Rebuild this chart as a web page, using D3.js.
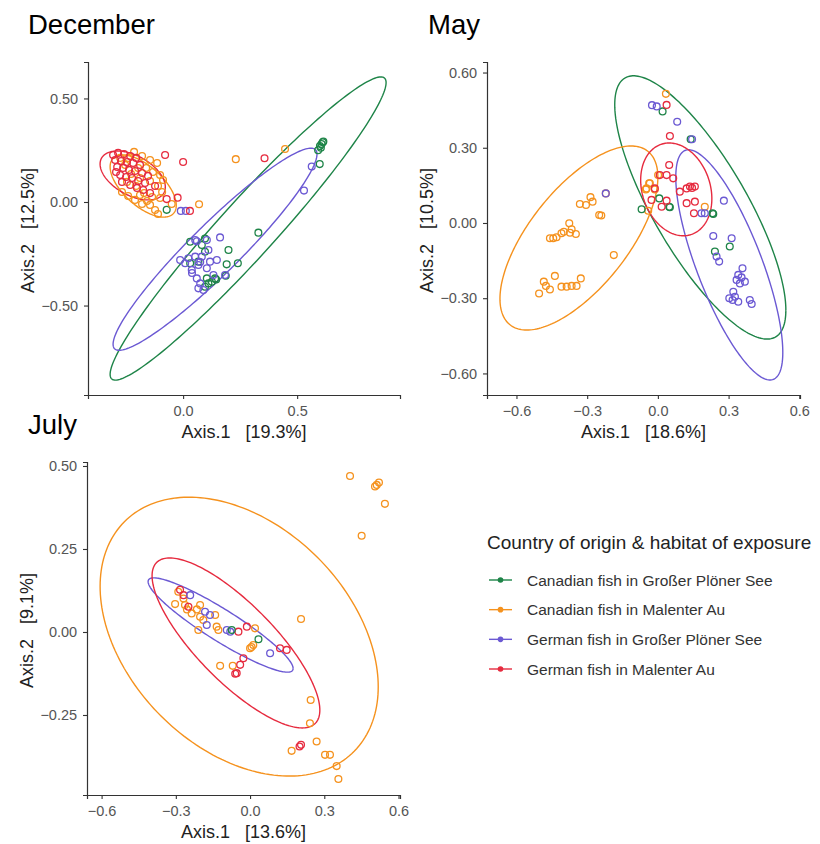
<!DOCTYPE html>
<html>
<head>
<meta charset="utf-8">
<script src="https://cdn.jsdelivr.net/npm/d3@7"></script>
<style>
  html, body { margin: 0; padding: 0; background: #ffffff; }
  svg { display: block; font-family: "Liberation Sans", Arial, sans-serif; }
</style>
</head>
<body>
<svg id="chart" width="820" height="844"></svg>
<script>
// ---- groups ----
const groups = [
  "Canadian fish in Großer Plöner See",
  "Canadian fish in Malenter Au",
  "German fish in Großer Plöner See",
  "German fish in Malenter Au"
];
const groupColors = ["#1e8448", "#f5921e", "#6b59d3", "#e62b3f"];

// ---- December ordination (Axis.1, Axis.2) ----
const decCanPlon = [
  [-0.072,-0.038],[0.599,0.183],[0.600,0.270],[0.607,0.280],[0.612,0.288],[0.604,0.262],
  [0.615,0.292],[0.592,0.250],[0.330,-0.148],[0.199,-0.232],[0.240,-0.296],[0.191,-0.301],
  [0.031,-0.192],[0.096,-0.240],[0.067,-0.288],[0.104,-0.369],[0.111,-0.393],[0.126,-0.385],
  [0.096,-0.409],[0.140,-0.369],[0.031,-0.296],[0.082,-0.208],[0.096,-0.176],[0.187,-0.356],
  [0.145,-0.374]
];
const decCanMal = [
  [-0.276,0.213],[-0.241,0.213],[-0.215,0.242],[-0.180,0.222],[-0.145,0.203],[-0.114,0.188],
  [-0.254,0.179],[-0.197,0.164],[-0.162,0.164],[-0.132,0.145],[-0.101,0.130],[-0.088,0.106],
  [-0.228,0.135],[-0.189,0.116],[-0.145,0.101],[-0.110,0.077],[-0.092,0.048],[-0.246,0.097],
  [-0.206,0.077],[-0.171,0.043],[-0.136,0.024],[-0.101,0.019],[-0.241,0.029],[-0.211,0.010],
  [-0.180,-0.010],[-0.145,-0.014],[-0.123,-0.039],[-0.110,-0.058],[-0.268,0.048],[-0.189,0.034],
  [-0.158,0.005],[0.231,0.207],[0.447,0.256],[0.070,-0.011],[-0.050,-0.010]
];
const decGerPlon = [
  [-0.010,-0.043],[0.012,-0.043],[0.162,-0.171],[0.530,0.055],[0.564,0.171],
  [0.104,-0.184],[0.060,-0.190],[0.023,-0.272],[-0.013,-0.280],[0.053,-0.264],[0.082,-0.264],
  [0.118,-0.288],[0.148,-0.280],[0.067,-0.304],[0.104,-0.320],[0.038,-0.328],[0.133,-0.353],
  [0.060,-0.369],[0.075,-0.393],[0.067,-0.417],[0.089,-0.425],[0.184,-0.353],[0.009,-0.296],
  [0.111,-0.232],[0.053,-0.184],[0.075,-0.290],[0.039,-0.343]
];
const decGerMal = [
  [-0.307,0.227],[-0.285,0.237],[-0.259,0.232],[-0.232,0.222],[-0.206,0.213],[-0.298,0.203],
  [-0.272,0.198],[-0.246,0.193],[-0.219,0.188],[-0.189,0.179],[-0.289,0.169],[-0.263,0.164],
  [-0.237,0.155],[-0.211,0.150],[-0.180,0.140],[-0.276,0.130],[-0.250,0.121],[-0.224,0.116],
  [-0.197,0.101],[-0.167,0.092],[-0.232,0.082],[-0.202,0.068],[-0.175,0.058],[-0.145,0.043],
  [-0.268,0.097],[-0.294,0.145],[-0.154,0.126],[-0.123,0.077],
  [-0.079,0.227],[0.000,0.193],[0.357,0.211],[-0.072,0.014],[-0.024,0.021],[0.030,-0.043]
];

// ---- May ordination ----
const mayCanPlon = [
  [0.020,0.445],[0.139,0.334],[0.006,0.098],[0.048,0.065],[-0.069,0.055],[0.051,0.063],
  [0.232,0.039],[0.242,-0.114],[0.305,-0.094],[0.235,0.036]
];
const mayCanMal = [
  [0.034,0.515],[-0.034,0.158],[-0.048,0.138],[-0.037,0.158],[-0.051,0.134],[-0.041,0.049],
  [0.001,0.191],[0.199,0.065],[-0.013,0.134],
  [-0.286,0.103],[-0.277,0.085],[-0.305,0.072],[-0.331,0.076],[-0.249,0.032],[-0.240,0.030],
  [-0.376,-0.001],[-0.366,-0.025],[-0.399,-0.035],[-0.348,-0.044],[-0.373,-0.039],[-0.430,-0.057],
  [-0.458,-0.061],[-0.444,-0.061],[-0.409,-0.041],[-0.221,0.118],[-0.187,-0.128],
  [-0.437,-0.211],[-0.484,-0.234],[-0.475,-0.251],[-0.504,-0.281],[-0.458,-0.265],[-0.409,-0.254],
  [-0.387,-0.254],[-0.366,-0.251],[-0.345,-0.251],[-0.327,-0.221]
];
const mayGerPlon = [
  [-0.025,0.470],[-0.005,0.465],[0.082,0.404],[0.145,0.334],[0.185,0.039],[0.199,0.039],
  [0.280,0.089],[-0.221,0.118],[0.235,-0.052],[0.313,-0.061],[0.249,-0.134],[0.260,-0.154],
  [0.359,-0.181],[0.341,-0.207],[0.355,-0.217],[0.369,-0.234],[0.334,-0.227],[0.348,-0.241],
  [0.320,-0.274],[0.303,-0.300],[0.327,-0.294],[0.317,-0.307],[0.341,-0.314],[0.390,-0.307],
  [0.398,-0.323]
];
const mayGerMal = [
  [0.037,0.471],[0.051,0.347],[0.048,0.231],[0.008,0.191],[0.037,0.191],[0.065,0.178],
  [-0.013,0.138],[-0.027,0.092],[0.037,0.089],[0.016,0.065],[0.093,0.125],[0.122,0.138],
  [0.136,0.145],[0.157,0.145],[0.122,0.079],[0.157,0.085],[0.153,0.039],[0.145,0.140]
];

// ---- July ordination ----
const julCanPlon = [
  [-0.074,0.006],[0.034,-0.022]
];
const julCanMal = [
  [0.404,0.470],[0.512,0.443],[0.521,0.450],[0.505,0.438],[0.545,0.386],[0.451,0.290],
  [0.206,0.039],[0.245,-0.205],[0.242,-0.275],[0.269,-0.330],[0.168,-0.358],[0.303,-0.370],
  [0.323,-0.370],[0.350,-0.404],[0.357,-0.443],[-0.121,-0.102],[-0.070,-0.102],
  [-0.290,0.121],[-0.303,0.084],[-0.269,0.101],[-0.263,0.081],[-0.236,0.056],[-0.202,0.081],
  [-0.202,0.046],[-0.209,0.006],[-0.189,0.036],[-0.141,0.051],[-0.135,0.016],[-0.128,0.006],
  [0.020,0.011],[0.000,-0.049],[0.013,-0.039],[-0.215,0.068],[0.006,-0.045],[-0.255,0.068]
];
const julGerPlon = [
  [-0.242,0.111],[-0.182,0.061],[-0.162,0.051],[-0.175,0.021],[-0.094,0.006],[-0.080,0.001],
  [0.081,-0.064]
];
const julGerMal = [
  [-0.283,0.127],[-0.269,0.111],[-0.249,0.076],[-0.013,0.016],[-0.047,0.001],[0.121,-0.049],
  [0.148,-0.054],[-0.040,-0.099],[-0.027,-0.079],[-0.054,-0.124],[-0.060,-0.126],[0.206,-0.340],
  [0.200,-0.345]
];

// ---- 95% ellipses: centre, half-extent in x / y, correlation ----
const decEllipses = [
  { g: 0, cx: 0.285, cy: -0.128, rx: 0.605, ry: 0.732, rho: 0.962 },
  { g: 1, cx: -0.175, cy: 0.077, rx: 0.145, ry: 0.150, rho: -0.62 },
  { g: 2, cx: 0.140, cy: -0.228, rx: 0.447, ry: 0.488, rho: 0.94 },
  { g: 3, cx: -0.221, cy: 0.128, rx: 0.143, ry: 0.118, rho: -0.47 }
];
const mayEllipses = [
  { g: 0, cx: 0.180, cy: 0.062, rx: 0.363, ry: 0.525, rho: -0.78 },
  { g: 1, cx: -0.335, cy: -0.060, rx: 0.335, ry: 0.367, rho: 0.66 },
  { g: 2, cx: 0.303, cy: -0.167, rx: 0.227, ry: 0.459, rho: -0.76 },
  { g: 3, cx: 0.078, cy: 0.134, rx: 0.151, ry: 0.185, rho: -0.20 }
];
const julEllipses = [
  { g: 1, cx: -0.044, cy: -0.014, rx: 0.562, ry: 0.420, rho: -0.36 },
  { g: 2, cx: -0.119, cy: 0.021, rx: 0.293, ry: 0.142, rho: -0.92 },
  { g: 3, cx: -0.057, cy: -0.033, rx: 0.339, ry: 0.256, rho: -0.79 }
];

// ---- tick values ----
const decXTicks = [0.0, 0.5];
const decYTicks = [-0.5, 0.0, 0.5];
const mayXTicks = [-0.6, -0.3, 0.0, 0.3, 0.6];
const mayYTicks = [-0.6, -0.3, 0.0, 0.3, 0.6];
const julXTicks = [-0.6, -0.3, 0.0, 0.3, 0.6];
const julYTicks = [-0.25, 0.0, 0.25, 0.5];

const panels = [
  { title: "December", xLab: "Axis.1   [19.3%]", yLab: "Axis.2   [12.5%]",
    left: 88, top: 62, width: 312, height: 333,
    xDomain: [-0.417, 0.951], yDomain: [-0.932, 0.676],
    xTicks: decXTicks, yTicks: decYTicks, xFmt: d3.format(".1f"), yFmt: d3.format(".2f"),
    series: [decCanPlon, decCanMal, decGerPlon, decGerMal], ellipses: decEllipses,
    order: [0, 2, 1, 3], titleX: 28, titleY: 34 },
  { title: "May", xLab: "Axis.1   [18.6%]", yLab: "Axis.2   [10.5%]",
    left: 487, top: 62, width: 313, height: 333,
    xDomain: [-0.725, 0.603], yDomain: [-0.686, 0.642],
    xTicks: mayXTicks, yTicks: mayYTicks, xFmt: d3.format(".1f"), yFmt: d3.format(".2f"),
    series: [mayCanPlon, mayCanMal, mayGerPlon, mayGerMal], ellipses: mayEllipses,
    order: [1, 0, 2, 3], titleX: 428, titleY: 34 },
  { title: "July", xLab: "Axis.1   [13.6%]", yLab: "Axis.2   [9.1%]",
    left: 87, top: 462, width: 313, height: 333,
    xDomain: [-0.659, 0.606], yDomain: [-0.491, 0.512],
    xTicks: julXTicks, yTicks: julYTicks, xFmt: d3.format(".1f"), yFmt: d3.format(".2f"),
    series: [julCanPlon, julCanMal, julGerPlon, julGerMal], ellipses: julEllipses,
    order: [1, 3, 2, 0], titleX: 28, titleY: 434 }
];

const svg = d3.select("#chart");
const axisColor = "#333333";
const tickText = "#555555";

function ellipsePoints(e) {
  const s = Math.sqrt(1 - e.rho * e.rho);
  return d3.range(0, 201).map(i => {
    const t = (i / 200) * 2 * Math.PI;
    return [e.cx + e.rx * Math.cos(t), e.cy + e.ry * (e.rho * Math.cos(t) + s * Math.sin(t))];
  });
}

panels.forEach(p => {
  const x = d3.scaleLinear().domain(p.xDomain).range([p.left, p.left + p.width]);
  const y = d3.scaleLinear().domain(p.yDomain).range([p.top + p.height, p.top]);
  const g = svg.append("g");

  // panel title
  g.append("text").attr("x", p.titleX).attr("y", p.titleY)
    .attr("font-size", 27.5).attr("fill", "#000").text(p.title);

  // ellipses
  const line = d3.line().x(d => x(d[0])).y(d => y(d[1]));
  g.selectAll("path.ell").data(p.ellipses).join("path")
    .attr("class", "ell")
    .attr("d", e => line(ellipsePoints(e)))
    .attr("fill", "none")
    .attr("stroke", e => groupColors[e.g])
    .attr("stroke-width", 1.4);

  // points (open circles)
  p.order.forEach(gi => {
    g.append("g").selectAll("circle").data(p.series[gi]).join("circle")
      .attr("cx", d => x(d[0])).attr("cy", d => y(d[1]))
      .attr("r", 3.4)
      .attr("fill", "none")
      .attr("stroke", groupColors[gi])
      .attr("stroke-width", 1.3);
  });

  // axes
  const xAxis = d3.axisBottom(x).tickValues(p.xTicks).tickFormat(p.xFmt).tickSizeOuter(0).tickSize(4);
  const yAxis = d3.axisLeft(y).tickValues(p.yTicks).tickFormat(p.yFmt).tickSizeOuter(0).tickSize(4);
  const gx = g.append("g").attr("transform", `translate(0,${p.top + p.height})`).call(xAxis);
  const gy = g.append("g").attr("transform", `translate(${p.left},0)`).call(yAxis);
  [gx, gy].forEach(a => {
    a.select(".domain").attr("stroke", axisColor).attr("stroke-width", 1.2);
    a.selectAll(".tick line").attr("stroke", axisColor).attr("stroke-width", 1.1);
    a.selectAll(".tick text").attr("fill", tickText).attr("font-size", 14.5)
      .attr("font-family", "Liberation Sans, Arial, sans-serif");
  });
  gx.selectAll(".tick text").attr("dy", "0.95em");
  gy.selectAll(".tick text").attr("dx", "-0.2em");

  // axis titles
  g.append("text")
    .attr("x", p.left + p.width / 2).attr("y", p.top + p.height + 43)
    .attr("text-anchor", "middle").attr("font-size", 18).attr("fill", "#222")
    .style("white-space", "pre")
    .text(p.xLab);
  g.append("text")
    .attr("transform", `translate(${p.left - 54},${p.top + p.height / 2 + 2}) rotate(-90)`)
    .attr("text-anchor", "middle").attr("font-size", 18).attr("fill", "#222")
    .style("white-space", "pre")
    .text(p.yLab);
});

// legend
const legend = svg.append("g").attr("transform", "translate(487,0)");
legend.append("text").attr("x", 0).attr("y", 549)
  .attr("font-size", 19).attr("fill", "#222")
  .text("Country of origin & habitat of exposure");
const itemY = d3.scalePoint().domain(groups).range([580, 669]);
groups.forEach((name, i) => {
  const row = legend.append("g").attr("transform", `translate(0,${itemY(name)})`);
  row.append("line").attr("x1", 2).attr("x2", 25).attr("y1", 0).attr("y2", 0)
    .attr("stroke", groupColors[i]).attr("stroke-width", 1.4);
  row.append("circle").attr("cx", 13.5).attr("cy", 0).attr("r", 2.8).attr("fill", groupColors[i]);
  row.append("text").attr("x", 40).attr("y", 5.5).attr("font-size", 15.5).attr("fill", "#333").text(name);
});
</script>
</body>
</html>
